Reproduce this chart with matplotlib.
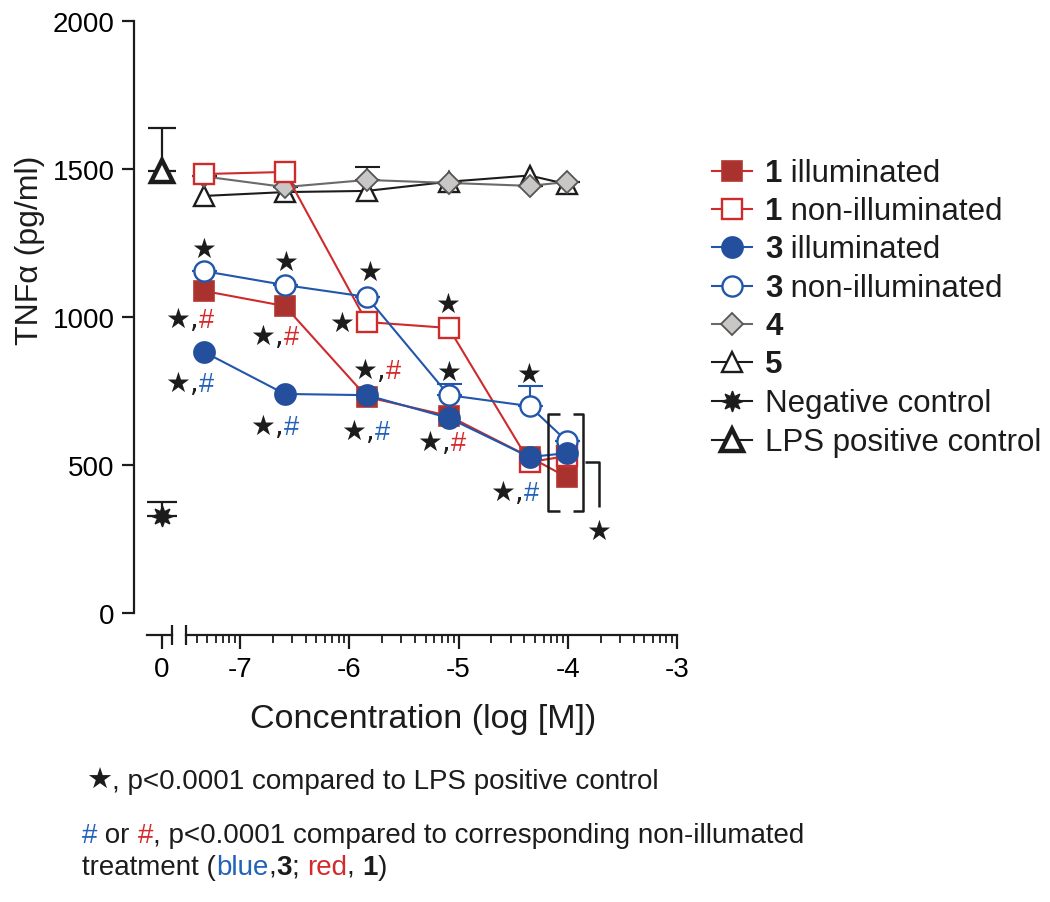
import matplotlib
matplotlib.use("Agg")
import matplotlib.pyplot as plt
import numpy as np
from matplotlib.lines import Line2D
from matplotlib.offsetbox import AnchoredOffsetbox, AnnotationBbox, HPacker, TextArea

plt.rcParams["font.family"] = ["Liberation Sans", "DejaVu Sans"]

# concentrations as log[M]; the untreated controls sit on the short "0" segment
conc = [-7.33, -6.59, -5.84, -5.09, -4.35, -4.01]
pos_zero = -7.715

tnf_1_ill = [1088, 1037, 730, 666, 527, 459]
tnf_1_dark = [1483, 1490, 983, 963, 510, 530]
tnf_3_ill = [882, 740, 736, 659, 527, 540]
tnf_3_dark = [1155, 1108, 1068, 736, 699, 581]
tnf_3_dark_err = [0, 0, 0, 38, 68, 0]
tnf_4 = [1475, 1439, 1463, 1453, 1443, 1456]
tnf_4_err = [0, 0, 44, 0, 0, 0]
tnf_5 = [1409, 1422, 1426, 1457, 1478, 1449]
lps_mean, lps_err = 1493, 145
neg_mean, neg_err = 328, 47

# significance marks: (x, y of the star, colour of the # or None)
sig_marks = [
    (-7.33, 1230, None), (-7.568, 993, "red"), (-7.568, 778, "blue"),
    (-6.579, 1186, None), (-6.789, 935, "red"), (-6.789, 633, "blue"),
    (-5.81, 1152, None), (-6.066, 980, None), (-5.856, 822, "red"), (-5.957, 615, "blue"),
    (-5.096, 1044, None), (-5.087, 814, None), (-5.261, 578, "red"),
    (-4.355, 807, None), (-4.593, 409, "blue"),
    (-3.714, 277, None),
]

RED = "#cf2a2c"
BLUE = "#2256aa"
HASH = {"red": "#d42a2c", "blue": "#2462b8"}
INK = "#1c1c1c"

s1_ill = dict(color=RED, marker="s", ms=14.5, mfc="#a9312e", mec="#b3352f", mew=1.2, lw=1.5)
s1_dark = dict(color=RED, marker="s", ms=14.5, mfc="white", mec=RED, mew=1.7, lw=1.5)
s3_ill = dict(color=BLUE, marker="o", ms=15, mfc="#234f9c", mec="#234f9c", mew=1.4, lw=1.5)
s3_dark = dict(color=BLUE, marker="o", ms=14.5, mfc="white", mec=BLUE, mew=1.7, lw=1.5)
s4 = dict(color="#6a6a6a", marker="D", ms=11, mfc="#c9c6c6", mec="#555555", mew=1.3, lw=1.5)
s5 = dict(color=INK, marker="^", ms=14.5, mfc="white", mec=INK, mew=1.7, lw=1.5)
s_neg = dict(color=INK, marker=(8, 1, 0), ms=15, mfc=INK, mec=INK, mew=1.0, lw=1.5)
s_lps = dict(color=INK, marker="^", ms=16.5, mfc="white", mec=INK, mew=3.2, lw=1.5)

fig = plt.figure(figsize=(10.5, 9.03), dpi=100)
L, B, W, H = 134 / 1050, 289 / 903, 556 / 1050, 592 / 903
xlim = (-7.9703, -2.881)

ax = fig.add_axes([L, B, W, H])
ax.set_xlim(*xlim)
ax.set_ylim(0, 2000)
for side in ("top", "right", "bottom"):
    ax.spines[side].set_visible(False)
ax.spines["left"].set_linewidth(1.6)
ax.spines["left"].set_color(INK)
ax.set_xticks([])
ax.set_yticks([0, 500, 1000, 1500, 2000])
ax.tick_params(axis="y", length=9, width=1.6, labelsize=20, pad=5, color=INK)

# series, bottom to top
ax.plot(conc, tnf_5, zorder=3, clip_on=False, **s5)
ax.errorbar(conc, tnf_4, yerr=[np.zeros(6), tnf_4_err], fmt="none", ecolor=INK,
            elinewidth=1.5, capsize=9, capthick=1.5, zorder=3.5)
ax.plot(conc, tnf_4, zorder=4, clip_on=False, **s4)
ax.plot(conc, tnf_1_ill, zorder=5, clip_on=False, **s1_ill)
ax.plot(conc, tnf_1_dark, zorder=6, clip_on=False, **s1_dark)
ax.errorbar(conc, tnf_3_dark, yerr=[np.zeros(6), tnf_3_dark_err], fmt="none", ecolor=BLUE,
            elinewidth=1.5, capsize=9, capthick=1.5, zorder=6.5)
ax.plot(conc, tnf_3_dark, zorder=7, clip_on=False, **s3_dark)
ax.plot(conc, tnf_3_ill, zorder=8, clip_on=False, **s3_ill)

# controls
ax.errorbar([pos_zero], [lps_mean], yerr=[[0], [lps_err]], fmt="none", ecolor=INK,
            elinewidth=1.6, capsize=10, capthick=1.6, zorder=3)
ax.plot([pos_zero], [lps_mean], ls="none", zorder=4, clip_on=False,
        **{k: v for k, v in s_lps.items() if k != "lw"})
ax.errorbar([pos_zero], [neg_mean], yerr=[[0], [neg_err]], fmt="none", ecolor=INK,
            elinewidth=1.6, capsize=11, capthick=1.6, zorder=3)
ax.plot([pos_zero], [neg_mean], ls="none", zorder=4, clip_on=False,
        **{k: v for k, v in s_neg.items() if k != "lw"})

# significance marks: "★" or "★,#" packed side by side, star centred on (x, y)
for x, y, hc in sig_marks:
    parts = [TextArea("★," if hc else "★",
                      textprops=dict(size=20, color=INK, family="DejaVu Sans"))]
    if hc:
        parts.append(TextArea("#", textprops=dict(size=19.5, color=HASH[hc])))
    box = HPacker(children=parts, align="baseline", pad=0, sep=0)
    ab = AnnotationBbox(box, (x, y), xybox=(-9.5, 0), boxcoords="offset points",
                        box_alignment=(0, 0.5), frameon=False, pad=0,
                        annotation_clip=False, zorder=9)
    ax.add_artist(ab)

# brackets at the highest concentration
bk = dict(color=INK, lw=1.8, clip_on=False, zorder=9, solid_capstyle="butt")
ax.plot([-4.071, -4.181, -4.181, -4.071], [672, 672, 345, 345], **bk)
ax.plot([-3.952, -3.860, -3.860, -3.952], [672, 672, 345, 345], **bk)
ax.plot([-3.842, -3.714, -3.714], [510, 510, 358], **bk)

# detached, broken x axis
axx = fig.add_axes([L, 267 / 903, W, 0.001])
axx.set_xlim(*xlim)
axx.set_ylim(0, 1)
axx.patch.set_visible(False)
for side in ("top", "right", "left"):
    axx.spines[side].set_visible(False)
axx.spines["bottom"].set_bounds(-7.494, -3)
axx.spines["bottom"].set_linewidth(1.6)
axx.spines["bottom"].set_color(INK)
axx.set_yticks([])
axx.set_xticks([pos_zero, -7, -6, -5, -4, -3], labels=["0", "-7", "-6", "-5", "-4", "-3"])
minor = [d + np.log10(k) for d in range(-8, -3) for k in range(2, 10)]
axx.set_xticks([m for m in minor if -7.494 < m < -3], minor=True)
axx.tick_params(axis="x", which="major", length=10, width=1.6, labelsize=20, pad=5, color=INK)
axx.tick_params(axis="x", which="minor", length=5.5, width=1.3, color=INK)
axx.plot([-7.851, -7.622], [0, 0], color=INK, lw=1.6, clip_on=False)
axx.plot([-7.622, -7.494], [0, 0], ls="none", marker="|", ms=15, mew=1.6,
         color=INK, clip_on=False)

fig.text(423 / 1050, (903 - 720) / 903, "Concentration (log [M])", ha="center",
         va="center", size=24.5, color=INK)
fig.text(30 / 1050, (903 - 250) / 903, "TNFα (pg/ml)", rotation=90, ha="center",
         va="center", size=23, color=INK)


def rich(pieces, x, y, size):
    boxes = []
    for s, kw in pieces:
        props = dict(size=size, color=INK)
        props.update(kw)
        boxes.append(TextArea(s, textprops=props))
    box = HPacker(children=boxes, align="baseline", pad=0, sep=0)
    anchored = AnchoredOffsetbox(loc="center left", child=box, pad=0, borderpad=0,
                                 frameon=False, bbox_to_anchor=(x, y),
                                 bbox_transform=fig.transFigure)
    fig.add_artist(anchored)


# legend, drawn row by row
legend_rows = [
    (s1_ill, [("1", {"weight": "bold"}), (" illuminated", {})]),
    (s1_dark, [("1", {"weight": "bold"}), (" non-illuminated", {})]),
    (s3_ill, [("3", {"weight": "bold"}), (" illuminated", {})]),
    (s3_dark, [("3", {"weight": "bold"}), (" non-illuminated", {})]),
    (s4, [("4", {"weight": "bold"})]),
    (s5, [("5", {"weight": "bold"})]),
    (s_neg, [("Negative control", {})]),
    (s_lps, [("LPS positive control", {})]),
]
row_y = [172, 210, 248, 287, 325, 363, 402, 441]
for (style, pieces), yp in zip(legend_rows, row_y):
    yf = (903 - yp) / 903
    fig.add_artist(Line2D([712 / 1050, 752 / 1050], [yf, yf], transform=fig.transFigure,
                          color=style["color"], lw=1.5))
    mk = {k: v for k, v in style.items() if k not in ("lw", "color")}
    fig.add_artist(Line2D([732 / 1050], [yf], transform=fig.transFigure, ls="none", **mk))
    rich(pieces, 765 / 1050, yf - 2 / 903, 22.5)

# footnotes
rich([("★", {"family": "DejaVu Sans", "size": 21}),
      (", p<0.0001 compared to LPS positive control", {})], 86 / 1050, (903 - 781) / 903, 20)
rich([("#", {"color": HASH["blue"]}), (" or ", {}), ("#", {"color": HASH["red"]}),
      (", p<0.0001 compared to corresponding non-illumated", {})],
     82 / 1050, (903 - 836) / 903, 20)
rich([("treatment (", {}), ("blue", {"color": HASH["blue"]}), (",", {}),
      ("3", {"weight": "bold"}), ("; ", {}), ("red", {"color": HASH["red"]}),
      (", ", {}), ("1", {"weight": "bold"}), (")", {})],
     82 / 1050, (903 - 868) / 903, 20)

fig.savefig("out.png", dpi=100, facecolor="white")
